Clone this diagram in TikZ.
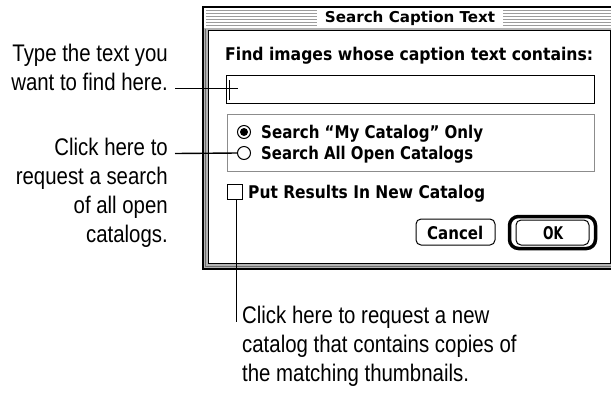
\documentclass[tikz,border=0pt]{standalone}
\usepackage{fontspec}
\usepackage{graphicx}
\setmainfont{Liberation Sans}
\newfontfamily\labfont[FakeStretch=0.85]{Liberation Sans}
\newfontfamily\chifont{DejaVu Sans Condensed}
\newcommand\fitto[2]{\resizebox{#1}{\height}{#2}}
\definecolor{framegray}{HTML}{B4B4B4}
\definecolor{framedark}{HTML}{6E6E6E}
\definecolor{stripe}{HTML}{9C9C9C}
\definecolor{boxgray}{HTML}{8C8C8C}
\begin{document}
\begin{tikzpicture}[x=1pt,y=-1pt,
  lab/.style={font=\labfont\fontsize{24}{29}\selectfont, inner sep=0pt, anchor=base east},
  labl/.style={font=\labfont\fontsize{24}{29}\selectfont, inner sep=0pt, anchor=base west},
  dlg/.style={font=\chifont\bfseries\fontsize{17.5}{21}\selectfont, inner sep=0pt, anchor=base west},
  ttl/.style={font=\chifont\bfseries\fontsize{15}{18}\selectfont, inner sep=0pt, anchor=base},
  conn/.style={line width=1.4pt, black},
  radio/.style={circle, draw, line width=1pt, minimum size=13pt, inner sep=0pt, fill=white},
  chk/.style={rectangle, draw, line width=1pt, minimum size=15pt, inner sep=0pt, fill=white},
  btn/.style={rectangle, draw, line width=1pt, rounded corners=5pt, inner sep=0pt},
]
\useasboundingbox (0,0) rectangle (611,392);
\clip (0,0) rectangle (611,392);

% ---------- window frame ----------
\fill[framegray] (203,7) rectangle (630,269);
\fill[white] (204,8) rectangle (630,28);
\foreach \yy in {10.5,13.5,16.5,19.5,22.5,25.5}
  \draw[stripe, line width=1.3pt] (206,\yy) -- (630,\yy);
\fill[white] (317,8) rectangle (503,28);
\draw[framedark, line width=1pt] (205.5,28.5) -- (205.5,266.5) -- (630,266.5);
\draw[line width=1.5pt] (203,7) rectangle (630,269);
\node[ttl] (title) at (410,22) {\fitto{170pt}{Search Caption Text}};

% content area
\draw[fill=white, line width=1.2pt] (208.5,30.5) rectangle (610.5,263.5);

% ---------- dialog contents ----------
\node[dlg] (find) at (225,60.5) {\fitto{368pt}{Find images whose caption text contains:}};
\node[draw, line width=1.2pt, rectangle, minimum width=368pt, minimum height=28pt, inner sep=0pt, anchor=north west] (field) at (226,75) {};
\draw[line width=0.9pt] (229.5,80) -- (229.5,100);

\draw[boxgray, line width=1pt] (227,114) rectangle (594,171);
\node[radio] (r1) at (244,132) {};
\fill (r1.center) circle (4pt);
\node[radio] (r2) at (244,153) {};
\node[dlg] (r1t) at (261,138.5) {\fitto{222pt}{Search “My Catalog” Only}};
\node[dlg] (r2t) at (261,159) {\fitto{212pt}{Search All Open Catalogs}};

\node[chk] (cb) at (234.5,191.5) {};
\node[dlg] (cbt) at (248,198.5) {\fitto{237pt}{Put Results In New Catalog}};

\node[btn, minimum width=79pt, minimum height=26pt] (cancel) at (455.5,232) {};
\node[dlg] (cancelt) at (427,239) {\fitto{56pt}{Cancel}};
\draw[line width=3.5pt, rounded corners=9pt] (509.5,216.5) rectangle (595.5,248.5);
\node[btn, minimum width=73pt, minimum height=25pt] (ok) at (552.5,232.5) {};
\node[dlg] (okt) at (543,239) {\fitto{20pt}{OK}};

% ---------- labels ----------
\node[lab] (l1a) at (168,61) {Type the text you};
\node[lab] (l1b) at (168,90) {want to find here.};
\node[lab] (l2a) at (168,155) {Click here to};
\node[lab] (l2b) at (168,184) {request a search};
\node[lab] (l2c) at (168,213) {of all open};
\node[lab] (l2d) at (168,242) {catalogs.};
\node[labl] (l3a) at (242,323) {Click here to request a new};
\node[labl] (l3b) at (242,352) {catalog that contains copies of};
\node[labl] (l3c) at (242,381) {the matching thumbnails.};

% ---------- connectors ----------
\coordinate (c1s) at (175,88.5);
\coordinate (c1e) at (238,88.5);
\draw[conn] (c1s) -- (c1e);
\coordinate (c2s) at (175,153.5);
\draw[conn] (c2s) -- (r2.west);
\coordinate (c3s) at (236.5,199);
\coordinate (c3e) at (236.5,322);
\draw[conn] (c3s) -- (c3e);
\end{tikzpicture}
\end{document}
